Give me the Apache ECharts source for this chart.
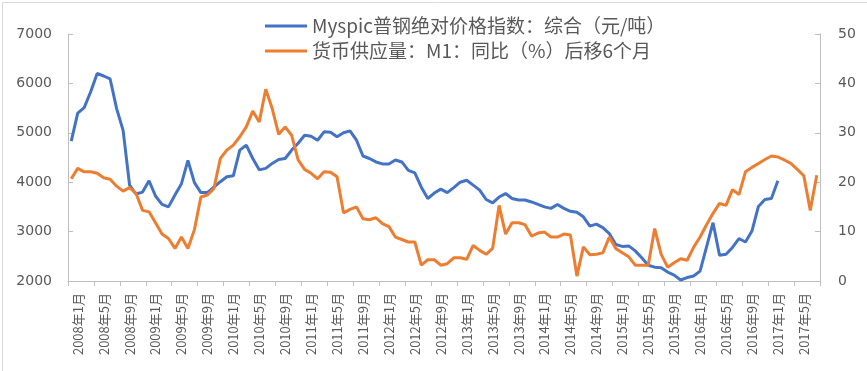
<!DOCTYPE html>
<html>
<head>
<meta charset="utf-8">
<script src="https://cdn.jsdelivr.net/npm/echarts@6/dist/echarts.min.js"></script>
<style>
html,body{margin:0;padding:0;background:#fff;}
#c{width:867px;height:371px;}
</style>
</head>
<body>
<div id="c"></div>
<script>
// Categories: monthly from 2008-01 to 2017-08
var startYear = 2008, monthCount = 116;
var categories = [];
for (var k = 0; k < monthCount; k++) {
  var y = startYear + Math.floor(k / 12), m = (k % 12) + 1;
  categories.push(y + '年' + m + '月');
}

var seriesNames = ['Myspic普钢绝对价格指数：综合（元/吨）', '货币供应量：M1：同比（%）后移6个月'];

// Myspic steel price index (yuan/ton), 2008-01 .. 2017-02
var steelIndex = [
  4830, 5400, 5510, 5830, 6200, 6150, 6090, 5490, 5050, 3940, 3760, 3800,
  4030, 3720, 3550, 3500, 3740, 3970, 4440, 3990, 3790, 3790, 3900, 4010,
  4110, 4130, 4650, 4750, 4480, 4250, 4280, 4380, 4460, 4480, 4650, 4790,
  4950, 4930, 4850, 5020, 5010, 4920, 5000, 5040, 4850, 4530, 4480, 4410,
  4370, 4370, 4450, 4410, 4240, 4190, 3900, 3670, 3780, 3860, 3790, 3890,
  4000, 4040, 3940, 3840, 3650, 3580, 3700, 3770, 3670, 3640, 3640, 3600,
  3550, 3500, 3470, 3550, 3470, 3410, 3390, 3300, 3110, 3150, 3080, 2960,
  2740, 2700, 2710, 2610, 2470, 2320, 2280, 2270, 2180, 2120, 2020, 2070,
  2100, 2200, 2690, 3180, 2520, 2540, 2680, 2860, 2790, 3010, 3510, 3650,
  3670, 4030
];

// M1 YoY (%) shifted 6 months, 2008-01 .. 2017-08
var m1Yoy = [
  20.7, 22.8, 22.1, 22.1, 21.8, 20.9, 20.6, 19.2, 18.2, 18.9, 17.7, 14.3,
  14.0, 11.8, 9.5, 8.6, 6.6, 8.9, 6.6, 10.4, 17.0, 17.4, 18.7, 24.8,
  26.5, 27.5, 29.2, 31.2, 34.4, 32.2, 38.8, 34.9, 29.7, 31.2, 29.5, 24.5,
  22.6, 21.8, 20.7, 22.1, 22.0, 21.1, 13.8, 14.5, 15.0, 12.6, 12.4, 12.8,
  11.6, 11.0, 8.9, 8.4, 7.9, 7.9, 3.2, 4.3, 4.3, 3.2, 3.5, 4.7,
  4.7, 4.4, 7.2, 6.2, 5.4, 6.6, 15.3, 9.5, 11.8, 11.8, 11.4, 9.1,
  9.7, 9.9, 8.9, 8.9, 9.5, 9.3, 1.0, 6.9, 5.3, 5.4, 5.7, 8.9,
  6.6, 5.7, 4.9, 3.2, 3.2, 3.2, 10.6, 5.4, 2.8, 3.7, 4.5, 4.2,
  6.8, 8.9, 11.4, 13.7, 15.7, 15.3, 18.5, 17.5, 22.1, 23.0, 23.8, 24.6,
  25.3, 25.1, 24.5, 23.8, 22.6, 21.3, 14.3, 21.4
];

var chart = echarts.init(document.getElementById('c'), null, {renderer: 'canvas'});
var axisGray = '#bfbfbf';
var textGray = '#595959';

chart.setOption({
  animation: false,
  backgroundColor: '#ffffff',
  graphic: [{
    type: 'rect', left: 0, top: 0, z: -1,
    shape: {x: 0.5, y: 0.5, width: 866, height: 370},
    style: {fill: 'none', stroke: '#d9d9d9', lineWidth: 1}
  }],
  legend: {
    orient: 'vertical',
    left: 260, top: 11,
    itemWidth: 42, itemHeight: 3,
    itemGap: 5,
    icon: 'rect',
    textStyle: {color: textGray, fontSize: 19, lineHeight: 20, fontFamily: '"Noto Sans CJK SC", "Noto Sans", sans-serif'},
    data: seriesNames
  },
  grid: {left: 68, right: 47, top: 34, bottom: 90},
  xAxis: {
    type: 'category',
    data: categories,
    boundaryGap: true,
    axisLine: {lineStyle: {color: axisGray, width: 1}},
    axisTick: {show: true, interval: 3, length: 5, lineStyle: {color: axisGray}},
    axisLabel: {
      interval: 3, rotate: 90, margin: 12,
      color: textGray, fontSize: 13,
      verticalAlign: 'top',
      fontFamily: '"Noto Sans CJK SC", sans-serif'
    },
    splitLine: {show: false}
  },
  yAxis: [{
    type: 'value', min: 2000, max: 7000, interval: 1000,
    position: 'left',
    axisLine: {show: true, lineStyle: {color: axisGray}},
    axisTick: {show: true, inside: true, length: 5, lineStyle: {color: axisGray}},
    axisLabel: {color: textGray, fontSize: 14, margin: 16, fontFamily: '"DejaVu Sans", sans-serif',
      formatter: function (v) { return String(v); }},
    splitLine: {show: false}
  }, {
    type: 'value', min: 0, max: 50, interval: 10,
    position: 'right',
    axisLine: {show: true, lineStyle: {color: axisGray}},
    axisTick: {show: true, inside: true, length: 5, lineStyle: {color: axisGray}},
    axisLabel: {color: textGray, fontSize: 14, margin: 18, fontFamily: '"DejaVu Sans", sans-serif'},
    splitLine: {show: false}
  }],
  series: [{
    name: seriesNames[0], type: 'line', yAxisIndex: 0,
    data: steelIndex, showSymbol: false, symbol: 'none',
    lineStyle: {color: '#4472C4', width: 3},
    itemStyle: {color: '#4472C4'}
  }, {
    name: seriesNames[1], type: 'line', yAxisIndex: 1,
    data: m1Yoy, showSymbol: false, symbol: 'none',
    lineStyle: {color: '#ED7D31', width: 3},
    itemStyle: {color: '#ED7D31'}
  }]
});
</script>
</body>
</html>
